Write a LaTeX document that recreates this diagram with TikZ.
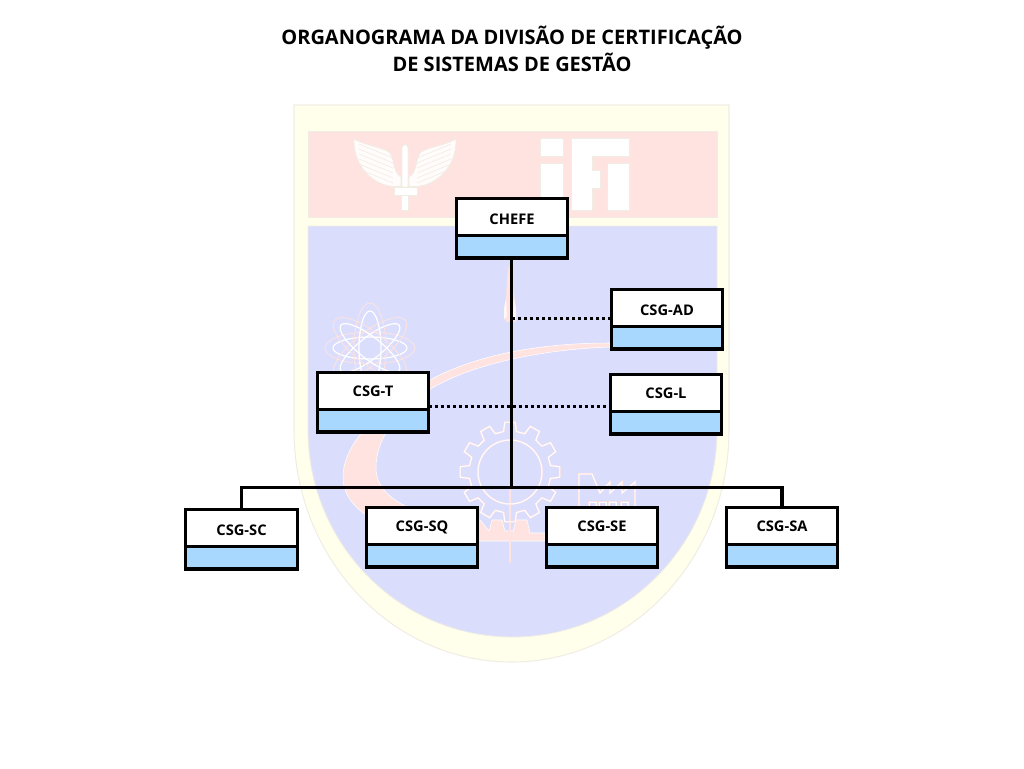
\documentclass[tikz,border=0pt]{standalone}
\usepackage{fontspec}
\setmainfont{Open Sans}
\usetikzlibrary{positioning}
\definecolor{crestyellow}{HTML}{FFFFEB}
\definecolor{crestred}{HTML}{FFE3E0}
\definecolor{crestblue}{HTML}{DADDFC}
\definecolor{crestedge}{HTML}{F0EEE4}
\definecolor{boxblue}{HTML}{A9D8FF}
\tikzset{
  namebox/.style={draw,fill=white,line width=2.4pt,outer sep=0pt,inner sep=0pt,
    minimum width=83.5pt,minimum height=28pt,font=\bfseries\fontsize{11}{13}\selectfont,
    text height=8pt,text depth=0pt},
  lowtext/.style={text height=11pt},
  bluebox/.style={draw,fill=boxblue,line width=2.4pt,outer sep=0pt,inner sep=0pt,
    minimum width=83.5pt,minimum height=16.5pt},
  orgline/.style={line width=2.4pt},
  dotline/.style={line width=2.25pt,dash pattern=on 2.25pt off 2.25pt},
  pinkline/.style={draw=crestred,line width=1.3pt},
  whiteline/.style={draw=white,line width=.7pt},
  panel/.style={draw=crestedge,line width=.6pt},
  titletext/.style={font=\bfseries\fontsize{15}{20.2}\selectfont,align=center}
}
\begin{document}
\begin{tikzpicture}[x=0.75pt,y=-0.75pt]
    \useasboundingbox (0,0) rectangle (1024,768);
    % crest
    \draw[crestedge,fill=crestyellow,line width=.8pt] (294,105) -- (729,105) -- (729,430)
      .. controls (729,558) and (631.6,662) .. (511.5,662)
      .. controls (391.4,662) and (294,558) .. (294,430) -- cycle;
    \draw[panel,fill=crestred] (308,131) rectangle (717,217);
    \draw[panel,fill=crestblue] (308,226) -- (717,226) -- (717,430)
      .. controls (717,544) and (625.5,637) .. (512.5,637)
      .. controls (399.5,637) and (308,544) .. (308,430) -- cycle;
    % iFi
    \draw[panel,fill=white] (540,138) rectangle (563,156);
    \draw[panel,fill=white] (540,163) rectangle (563,210);
    \draw[panel,fill=white] (571,138) -- (629,138) -- (629,156) -- (592,156) -- (592,170)
      -- (600,170) -- (600,188) -- (592,188) -- (592,210) -- (571,210) -- cycle;
    \draw[panel,fill=white] (607,163) rectangle (629,210);
    % wings
    \foreach \s in {1,-1}{
      \begin{scope}[shift={(405,0)},xscale=\s]
        \draw[panel,fill=white!88!crestred] (51,139) .. controls (38,146) and (24,147) .. (16,152)
          .. controls (10,158) and (13,172) .. (4,177) -- (4,186)
          .. controls (26,190) and (52,170) .. (51,139) -- cycle;
        \foreach \y in {150,155,...,175}{
          \draw[crestedge,line width=.5pt] (12,\y+8) -- (46,\y-6);
        }
      \end{scope}
    }
    \draw[panel,fill=white] (402,147) -- (405,144) -- (408,147) -- (408,187) -- (402,187) -- cycle;
    \draw[panel,fill=white] (394,187) rectangle (417,195);
    \draw[panel,fill=white] (401,195) rectangle (408,210);
    % swoosh and rack
    \draw[white,fill=crestred,line width=.4pt] (610,343) .. controls (530,343) and (470,358) .. (430,380)
      .. controls (385,405) and (343,440) .. (343,477)
      .. controls (343,520) and (410,541) .. (480,541) -- (545,541) -- (545,533)
      -- (530,533) -- (527,520) -- (516,520) -- (513,531) -- (505,531) -- (502,520)
      -- (492,520) -- (489,531) -- (480,520)
      .. controls (420,520) and (376,500) .. (376,468)
      .. controls (376,430) and (410,402) .. (432,388)
      .. controls (455,375) and (480,367) .. (500,362)
      .. controls (540,352) and (580,348) .. (610,347) -- cycle;
    \draw[pinkline,line width=.8pt] (510,488) -- (510,563);
    % rocket
    \fill[crestred] (509,264) .. controls (506,280) and (506,300) .. (506,322) -- (516,322)
      .. controls (516,300) and (512,280) .. (509,264) -- cycle;
    \fill[white!70!crestred] (506,298) -- (504,308) -- (504,320) -- (507,316) -- cycle;
    \fill[white!70!crestred] (514,298) -- (516,308) -- (516,320) -- (513,316) -- cycle;
    % atom
    \foreach \a in {0,38,90,142}{
      \draw[pinkline,line width=.6pt,rotate around={\a:(370,348)}] (370,348) ellipse [x radius=33.75pt,y radius=12pt];
      \draw[whiteline,line width=.9pt,rotate around={\a:(370,348)}] (370,348) ellipse [x radius=27.75pt,y radius=8.25pt];
    }
    % gear
    \begin{scope}[shift={(510,472)}]
      \foreach \linestyle in {pinkline,whiteline}{
        \draw[\linestyle] (-9:41) \foreach \a in {0,30,...,330}{
          -- (\a-9:41) -- (\a-6:50) -- (\a+6:50) -- (\a+9:41)
        } -- cycle;
        \draw[\linestyle] (0,0) circle (24pt);
      }
    \end{scope}
    % factory
    \foreach \linestyle in {pinkline,whiteline}{
      \draw[\linestyle] (579,510) -- (579,474) -- (592,474) -- (600,493) -- (610,482) -- (610,493)
        -- (622,482) -- (622,493) -- (635,482) -- (635,510);
      \foreach \x in {589,599,609,621}{
        \draw[\linestyle] (\x,502) rectangle (\x+7,510);
      }
    }
    % title
    \node[titletext] (title) at (512,48.5) {ORGANOGRAMA DA DIVISÃO DE CERTIFICAÇÃO\\DE SISTEMAS DE GESTÃO};
    % boxes
    \node[namebox,lowtext] (chefe) at (512,217) {CHEFE};
    \node[bluebox,below=0pt of chefe] (chefeb) {};
    \node[namebox,lowtext] (ad) at (667,308) {CSG-AD};
    \node[bluebox,below=0pt of ad] (adb) {};
    \node[namebox] (l) at (666,393) {CSG-L};
    \node[bluebox,below=0pt of l] (lb) {};
    \node[namebox] (t) at (373,391) {CSG-T};
    \node[bluebox,below=0pt of t] (tb) {};
    \node[namebox,lowtext] (sc) at (241.5,528) {CSG-SC};
    \node[bluebox,below=0pt of sc] (scb) {};
    \node[namebox] (sq) at (422,526) {CSG-SQ};
    \node[bluebox,below=0pt of sq] (sqb) {};
    \node[namebox] (se) at (602,526) {CSG-SE};
    \node[bluebox,below=0pt of se] (seb) {};
    \node[namebox] (sa) at (782,526) {CSG-SA};
    \node[bluebox,below=0pt of sa] (sab) {};
    % heavier foot on the boxes
    \foreach \b in {chefeb,adb,lb,tb,scb,sqb,seb,sab}{
      \draw[line width=1.5pt] ([xshift=-1.2pt,yshift=-1pt]\b.south west) -- ([xshift=1.2pt,yshift=-1pt]\b.south east);
    }
    % lines
    \coordinate (trunk) at (511.5,487.5);
    \draw[orgline] (chefeb.south -| trunk) -- (trunk);
    \draw[orgline] (sc.north) |- (trunk) -| (sa.north);
    \draw[dotline] ([yshift=-7.5pt]ad.west) -- ([yshift=-7.5pt]ad.west -| trunk);
    \draw[dotline] ([yshift=-11.25pt]t.east) -- ([yshift=-11.25pt]t.east -| l.west);
\end{tikzpicture}
\end{document}
